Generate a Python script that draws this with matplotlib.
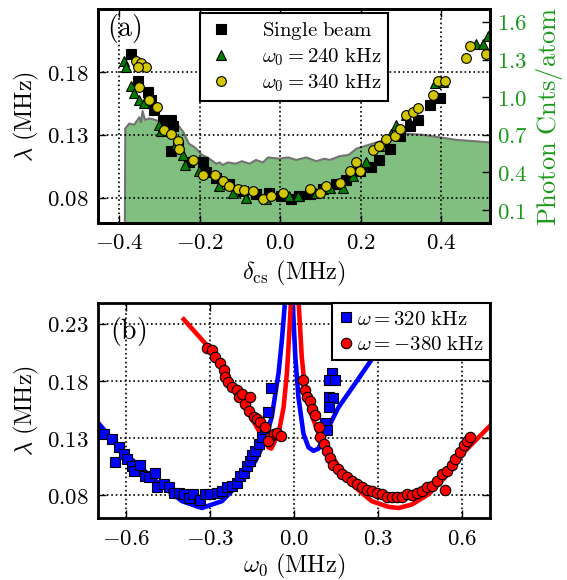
import numpy as np
import matplotlib
matplotlib.use('Agg')
import matplotlib.pyplot as plt

plt.rcParams['mathtext.fontset'] = 'cm'
plt.rcParams['font.family'] = 'serif'
plt.rcParams['font.serif'] = ['DejaVu Serif']

# ---------------- panel (a) data ----------------
single_x = [-0.371, -0.354, -0.329, -0.321, -0.313, -0.292, -0.271, -0.267, -0.255, -0.271,
            -0.226, -0.193, -0.184, -0.159, -0.126, -0.093, -0.060, -0.027, 0.002, 0.027,
            0.048, 0.073, 0.106, 0.139, 0.164, 0.198, 0.227, 0.247, 0.272, 0.297,
            0.322, 0.343, 0.372, 0.397]
single_y = [0.194, 0.173, 0.164, 0.158, 0.150, 0.142, 0.142, 0.137, 0.121, 0.117,
            0.108, 0.108, 0.100, 0.096, 0.091, 0.085, 0.083, 0.084, 0.081, 0.079,
            0.081, 0.083, 0.087, 0.091, 0.094, 0.101, 0.104, 0.110, 0.119, 0.129,
            0.137, 0.142, 0.154, 0.159]

w240_x = [-0.388, -0.383, -0.371, -0.363, -0.350, -0.338, -0.300, -0.296, -0.259, -0.242,
          -0.237, -0.201, -0.151, -0.118, -0.085, -0.035, 0.023, 0.044, 0.090, 0.123,
          0.156, 0.181, 0.214, 0.247, 0.276, 0.289, 0.314, 0.384, 0.405, 0.488,
          0.505, 0.517]
w240_y = [0.189, 0.184, 0.169, 0.163, 0.158, 0.155, 0.138, 0.133, 0.123, 0.114,
          0.106, 0.101, 0.089, 0.084, 0.080, 0.079, 0.081, 0.081, 0.084, 0.088,
          0.088, 0.097, 0.108, 0.121, 0.131, 0.138, 0.146, 0.171, 0.172, 0.202,
          0.202, 0.209]

w340_x = [-0.359, -0.346, -0.334, -0.354, -0.352, -0.327, -0.305, -0.288, -0.271, -0.255,
          -0.252, -0.217, -0.193, -0.163, -0.143, -0.126, -0.105, -0.089, -0.068, -0.043,
          -0.022, 0.007, 0.073, 0.098, 0.115, 0.148, 0.173, 0.189, 0.198, 0.231,
          0.247, 0.264, 0.285, 0.297, 0.314, 0.330, 0.343, 0.380, 0.393, 0.409,
          0.463, 0.471, 0.513]
w340_y = [0.189, 0.187, 0.184, 0.184, 0.168, 0.158, 0.152, 0.134, 0.131, 0.125,
          0.119, 0.110, 0.098, 0.098, 0.093, 0.089, 0.087, 0.086, 0.085, 0.079,
          0.081, 0.084, 0.087, 0.084, 0.089, 0.092, 0.101, 0.108, 0.101, 0.118,
          0.121, 0.127, 0.129, 0.135, 0.146, 0.148, 0.151, 0.162, 0.173, 0.173,
          0.191, 0.201, 0.194]

# photon counts per atom (right axis)
counts_x = [-0.386, -0.385, -0.375, -0.363, -0.350, -0.346, -0.342, -0.336, -0.325, -0.311,
            -0.290, -0.270, -0.252, -0.240, -0.227, -0.212, -0.194, -0.176, -0.159, -0.150,
            -0.143, -0.130, -0.110, -0.095, -0.076, -0.060, -0.043, -0.030, -0.002, 0.020,
            0.040, 0.065, 0.090, 0.110, 0.123, 0.148, 0.170, 0.190, 0.230, 0.270,
            0.310, 0.355, 0.397, 0.438, 0.480, 0.52]
counts_v = [0.0, 0.75, 0.79, 0.78, 0.84, 0.80, 0.89, 0.82, 0.83, 0.82,
            0.79, 0.78, 0.77, 0.72, 0.63, 0.60, 0.54, 0.51, 0.47, 0.48,
            0.46, 0.48, 0.47, 0.49, 0.47, 0.50, 0.48, 0.52, 0.51, 0.52,
            0.50, 0.52, 0.49, 0.51, 0.50, 0.53, 0.54, 0.59, 0.63, 0.67,
            0.71, 0.70, 0.68, 0.66, 0.65, 0.64]

# ---------------- panel (b) data ----------------
blue_x = [-0.681, -0.651, -0.639, -0.627, -0.610, -0.598, -0.580, -0.574, -0.550, -0.532,
          -0.520, -0.496, -0.491, -0.467, -0.449, -0.431, -0.413, -0.395, -0.377, -0.360,
          -0.336, -0.318, -0.300, -0.276, -0.258, -0.240, -0.223, -0.205, -0.193, -0.181,
          -0.169, -0.157, -0.151, -0.139, -0.127, -0.115, -0.104, -0.092, -0.082,
          0.135, 0.123, 0.146, 0.123, 0.140, 0.123, 0.111, 0.117]
blue_y = [0.134, 0.129, 0.109, 0.122, 0.116, 0.112, 0.106, 0.101, 0.107, 0.097,
          0.096, 0.100, 0.087, 0.090, 0.087, 0.082, 0.082, 0.081, 0.078, 0.081,
          0.076, 0.081, 0.081, 0.082, 0.084, 0.087, 0.088, 0.091, 0.097, 0.100,
          0.106, 0.110, 0.115, 0.119, 0.125, 0.131, 0.138, 0.153, 0.174,
          0.187, 0.181, 0.181, 0.166, 0.165, 0.157, 0.143, 0.137]

red_x = [-0.312, -0.294, -0.282, -0.264, -0.252, -0.246, -0.235, -0.223, -0.205, -0.199,
         -0.187, -0.175, -0.157, -0.163, -0.145, -0.133, -0.121, -0.104, -0.086, -0.074,
         -0.062, -0.046, -0.092, 0.033, 0.039, 0.045, 0.057, 0.063, 0.075, 0.087,
         0.093, 0.105, 0.117, 0.129, 0.140, 0.158, 0.170, 0.188, 0.206, 0.224,
         0.242, 0.260, 0.277, 0.295, 0.313, 0.331, 0.349, 0.367, 0.385, 0.402,
         0.420, 0.438, 0.456, 0.474, 0.492, 0.510, 0.527, 0.539, 0.545, 0.563,
         0.575, 0.593, 0.605, 0.617, 0.629]
red_y = [0.209, 0.207, 0.201, 0.196, 0.190, 0.184, 0.179, 0.175, 0.172, 0.166,
         0.169, 0.160, 0.166, 0.154, 0.149, 0.147, 0.144, 0.140, 0.131, 0.134,
         0.135, 0.132, 0.128, 0.181, 0.172, 0.166, 0.163, 0.156, 0.150, 0.140,
         0.131, 0.125, 0.119, 0.113, 0.107, 0.103, 0.099, 0.096, 0.093, 0.090,
         0.087, 0.085, 0.084, 0.082, 0.081, 0.079, 0.079, 0.079, 0.079, 0.081,
         0.080, 0.082, 0.084, 0.087, 0.088, 0.093, 0.099, 0.085, 0.101, 0.107,
         0.112, 0.118, 0.124, 0.128, 0.131]

# fitted curves
blue_fit_lx = [-0.699, -0.615, -0.496, -0.401, -0.330, -0.258, -0.199, -0.139, -0.104, -0.080,
               -0.056, -0.044, -0.032]
blue_fit_ly = [0.143, 0.119, 0.093, 0.075, 0.069, 0.075, 0.090, 0.110, 0.128, 0.149,
               0.187, 0.216, 0.252]
blue_fit_rx = [-0.006, 0.004, 0.015, 0.033, 0.051, 0.069, 0.087, 0.111, 0.158, 0.218,
               0.277, 0.337, 0.396]
blue_fit_ry = [0.252, 0.201, 0.166, 0.134, 0.122, 0.119, 0.121, 0.134, 0.157, 0.178,
               0.199, 0.216, 0.231]
red_fit_lx = [-0.395, -0.318, -0.235, -0.175, -0.127, -0.092, -0.082, -0.056, -0.038, -0.026,
              -0.017, -0.011]
red_fit_ly = [0.234, 0.213, 0.184, 0.157, 0.137, 0.122, 0.121, 0.134, 0.157, 0.187,
              0.225, 0.252]
red_fit_rx = [0.015, 0.027, 0.039, 0.057, 0.087, 0.123, 0.170, 0.218, 0.277, 0.337,
              0.373, 0.420, 0.480, 0.551, 0.611, 0.70]
red_fit_ry = [0.252, 0.201, 0.172, 0.154, 0.134, 0.119, 0.101, 0.087, 0.075, 0.070,
              0.069, 0.072, 0.081, 0.099, 0.119, 0.141]

xticks_a = [-0.4, -0.2, 0.0, 0.2, 0.4]
xticklabels_a = [r'$-0.4$', r'$-0.2$', r'$0.0$', r'$0.2$', r'$0.4$']
yticks_a = [0.08, 0.13, 0.18]
yticklabels_a = [r'$0.08$', r'$0.13$', r'$0.18$']
rticks_a = [0.1, 0.4, 0.7, 1.0, 1.3, 1.6]
rticklabels_a = [r'$0.1$', r'$0.4$', r'$0.7$', r'$1.0$', r'$1.3$', r'$1.6$']
xticks_b = [-0.6, -0.3, 0.0, 0.3, 0.6]
xticklabels_b = [r'$-0.6$', r'$-0.3$', r'$0.0$', r'$0.3$', r'$0.6$']
yticks_b = [0.08, 0.13, 0.18, 0.23]
yticklabels_b = [r'$0.08$', r'$0.13$', r'$0.18$', r'$0.23$']

fs = 16.5      # tick labels
lfs = 17.5     # axis labels
green_txt = (0.1, 0.6, 0.1)
yellow = (0.82, 0.78, 0.0)

fig = plt.figure(figsize=(5.67, 5.8), dpi=100)
ax1 = fig.add_axes([0.1734, 0.616, 0.691, 0.368])
ax1r = ax1.twinx()
ax2 = fig.add_axes([0.1734, 0.1064, 0.691, 0.3706])

# ---- (a) ----
ax1r.fill_between(counts_x, 0, counts_v, facecolor=(0.5, 0.75, 0.5), edgecolor='none')
ax1r.plot(counts_x, counts_v, color='0.45', lw=1.5)
ax1r.set_ylim(0, 1.7)
ax1r.set_yticks(rticks_a)
ax1r.set_yticklabels(rticklabels_a, fontsize=fs, color=green_txt)
ax1r.tick_params(axis='y', direction='in', length=6, width=1, colors='k',
                 labelcolor=green_txt, pad=5)
ax1r.set_ylabel(r'$\mathrm{Photon\ Cnts/atom}$', fontsize=lfs + 1.5, color=green_txt, labelpad=4)

ax1.set_zorder(ax1r.get_zorder() + 1)
ax1.patch.set_visible(False)

ms = 7
ax1.plot(single_x, single_y, 's', color='k', ms=ms, mec='k', mew=0.8, label=r'$\mathrm{Single\ beam}$')
ax1.plot(w240_x, w240_y, '^', color='green', ms=ms, mec='k', mew=0.8, label=r'$\omega_0=240\ \mathrm{kHz}$')
ax1.plot(w340_x, w340_y, 'o', color=yellow, ms=ms, mec='k', mew=0.8, label=r'$\omega_0=340\ \mathrm{kHz}$')

ax1.set_xlim(-0.452, 0.522)
ax1.set_ylim(0.06, 0.23)
ax1.set_xticks(xticks_a)
ax1.set_xticklabels(xticklabels_a, fontsize=fs)
ax1.set_yticks(yticks_a)
ax1.set_yticklabels(yticklabels_a, fontsize=fs)
ax1.tick_params(direction='in', length=6, width=1, top=True, pad=7)
ax1.grid(True, color='k', linestyle=':', lw=1.2)
ax1.set_xlabel(r'$\delta_{\mathrm{cs}}\ (\mathrm{MHz})$', fontsize=lfs, labelpad=3)
ax1.set_ylabel(r'$\lambda\ (\mathrm{MHz})$', fontsize=lfs, labelpad=4)
ax1.text(0.022, 0.985, r'$\mathrm{(a)}$', transform=ax1.transAxes, fontsize=20, va='top', ha='left')
leg = ax1.legend(loc='upper left', bbox_to_anchor=(0.26, 0.983), borderaxespad=0, numpoints=1,
                 fontsize=15, fancybox=False, framealpha=1, edgecolor='k', handletextpad=1.3,
                 borderpad=0.35, labelspacing=0.2, handlelength=1.3)
leg.get_frame().set_linewidth(1.5)

# ---- (b) ----
ax2.plot(blue_fit_lx, blue_fit_ly, '-', color='b', lw=3.3)
ax2.plot(blue_fit_rx, blue_fit_ry, '-', color='b', lw=3.3)
ax2.plot(red_fit_lx, red_fit_ly, '-', color='r', lw=3.3)
ax2.plot(red_fit_rx, red_fit_ry, '-', color='r', lw=3.3)
ax2.plot(blue_x, blue_y, 's', color='b', ms=ms, mec='k', mew=0.8, label=r'$\omega=320\ \mathrm{kHz}$')
ax2.plot(red_x, red_y, 'o', color='r', ms=ms + 0.5, mec='k', mew=0.8, label=r'$\omega=-380\ \mathrm{kHz}$')

ax2.set_xlim(-0.7, 0.7)
ax2.set_ylim(0.06, 0.248)
ax2.set_xticks(xticks_b)
ax2.set_xticklabels(xticklabels_b, fontsize=fs)
ax2.set_yticks(yticks_b)
ax2.set_yticklabels(yticklabels_b, fontsize=fs)
ax2.tick_params(direction='in', length=6, width=1, top=True, right=True, pad=7)
ax2.grid(True, color='k', linestyle=':', lw=1.2)
ax2.set_xlabel(r'$\omega_0\ (\mathrm{MHz})$', fontsize=lfs, labelpad=1)
ax2.set_ylabel(r'$\lambda\ (\mathrm{MHz})$', fontsize=lfs, labelpad=4)
ax2.text(0.03, 0.945, r'$\mathrm{(b)}$', transform=ax2.transAxes, fontsize=20, va='top', ha='left')
leg2 = ax2.legend(loc='upper right', borderaxespad=0, numpoints=1, fontsize=15,
                  fancybox=False, framealpha=1, edgecolor='k', handletextpad=0.1,
                  borderpad=0.3, labelspacing=0.3, handlelength=0.8)
leg2.get_frame().set_linewidth(1.5)

for ax in (ax1, ax1r, ax2):
    for sp in ax.spines.values():
        sp.set_linewidth(2)

plt.savefig('out.png', dpi=100)
